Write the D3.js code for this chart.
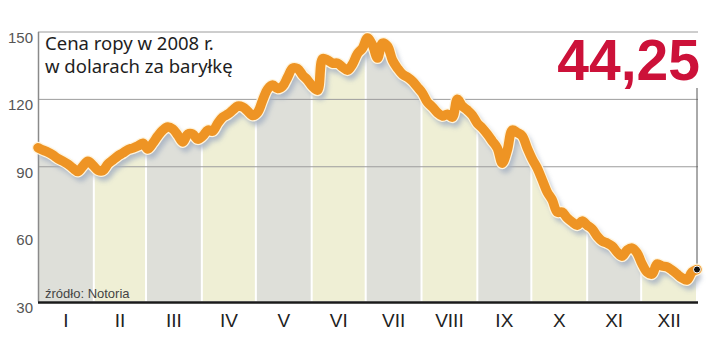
<!DOCTYPE html>
<html lang="pl">
<head>
    <meta charset="UTF-8">
    <title>Cena ropy 2008</title>
    <script src="https://d3js.org/d3.v7.min.js"></script>
    <style>
        body { margin: 0; background: #fff; }
        text { font-family: "Liberation Sans", Arial, sans-serif; }
    </style>
</head>
<body>
<svg id="main" width="720" height="348" viewBox="0 0 720 348"></svg>
<script>
    // dane
    const months = ['I', 'II', 'III', 'IV', 'V', 'VI', 'VII', 'VIII', 'IX', 'X', 'XI', 'XII'];
    const yTicks = [30, 60, 90, 120, 150];
    const gridValues = [90, 120, 150];
    const year = 2008;
    const lastLabel = '44,25';
    const titleLines = ['Cena ropy w 2008 r.', 'w dolarach za baryłkę'];
    const source = 'źródło: Notoria';
    const prices = [
        98.5, 97.4, 96.5, 95.2, 93.6, 92.5, 91.2, 89.4, 87.9, 90.3,
        92.5, 90.7, 88.5, 88.3, 91.2, 93.0, 94.8, 96.1, 97.6, 98.3,
        99.2, 100.5, 97.9, 100.5, 103.7, 106.3, 107.7, 106.8, 104.1, 101.0,
        104.5, 104.5, 102.3, 103.7, 106.3, 105.9, 109.4, 112.1, 113.4, 115.2,
        117.0, 116.6, 114.8, 112.8, 114.3, 119.7, 124.6, 126.4, 124.8, 125.9,
        129.9, 133.9, 133.7, 130.8, 128.6, 125.7, 124.1, 138.1, 137.5, 136.1,
        136.1, 134.4, 133.0, 135.7, 140.4, 142.8, 147.3, 144.2, 138.4, 145.0,
        143.7, 137.5, 133.9, 131.2, 129.9, 128.1, 125.5, 122.8, 118.8, 116.6,
        114.1, 112.6, 113.4, 112.1, 120.1, 117.0, 115.2, 113.0, 109.4, 107.2,
        104.5, 101.4, 98.3, 91.6, 97.4, 106.3, 105.2, 103.7, 98.3, 93.4,
        89.4, 84.1, 78.7, 75.2, 69.8, 69.8, 67.2, 65.4, 64.0, 65.8,
        64.0, 62.3, 59.1, 56.9, 56.0, 54.7, 52.0, 50.2, 52.9, 53.8,
        51.6, 46.7, 43.1, 42.2, 46.7, 45.8, 45.4, 44.0, 42.2, 40.5,
        39.6, 43.1, 44.25
    ];

    const svg = d3.select('svg#main');
    const m = {left: 38, right: 697, top: 32, bottom: 301.5};

    const xScale = d3.scaleLinear().domain([0, prices.length - 1]).range([m.left, m.right]);
    const tScale = d3.scaleTime()
        .domain([new Date(year, 0, 1), new Date(year + 1, 0, 1)])
        .range([m.left, m.right]);
    const yScale = d3.scaleLinear().domain([30, 150]).range([m.bottom, m.top]);

    const defs = svg.append('defs');
    const area = d3.area()
        .x((d, i) => xScale(i))
        .y0(m.bottom)
        .y1(d => yScale(d))
        .curve(d3.curveCatmullRom);
    defs.append('clipPath').attr('id', 'under')
        .append('path').attr('d', area(prices));

    const shadow = defs.append('filter').attr('id', 'shadow')
        .attr('x', '-5%').attr('y', '-10%').attr('width', '110%').attr('height', '130%');
    shadow.append('feGaussianBlur').attr('stdDeviation', 2.5);

    // pasy miesięcy
    const monthStarts = d3.range(12).map(k => new Date(year, k, 1));
    const bands = svg.append('g').attr('clip-path', 'url(#under)');
    bands.selectAll('rect')
        .data(monthStarts)
        .enter()
        .append('rect')
        .attr('x', d => tScale(d) + (d.getMonth() ? 1 : 0))
        .attr('y', m.top)
        .attr('width', d => tScale(d3.timeMonth.offset(d, 1)) - tScale(d) - (d.getMonth() ? 2 : 1))
        .attr('height', m.bottom - m.top)
        .style('fill', (d, i) => i % 2 ? '#efefd5' : '#dedfd9');

    // siatka
    svg.selectAll('line.grid')
        .data(gridValues)
        .enter()
        .append('line')
        .attr('class', 'grid')
        .attr('x1', m.left).attr('x2', m.right + 1)
        .attr('y1', d => yScale(d)).attr('y2', d => yScale(d))
        .style('stroke', '#9c9c9c')
        .style('stroke-width', 1);

    svg.append('line')
        .attr('x1', m.left + 0.5).attr('x2', m.left + 0.5)
        .attr('y1', m.top).attr('y2', m.bottom)
        .style('stroke', '#8a8a8a').style('stroke-width', 1.5);

    svg.selectAll('text.ytick')
        .data(yTicks)
        .enter()
        .append('text')
        .attr('class', 'ytick')
        .attr('x', 33)
        .attr('y', d => yScale(d) + 11)
        .attr('text-anchor', 'end')
        .style('font-size', '15px')
        .style('fill', '#555')
        .text(d => d);

    // linia pomocnicza do ostatniej wartości
    const last = prices.length - 1;
    svg.append('line')
        .attr('x1', xScale(last)).attr('x2', xScale(last))
        .attr('y1', 88).attr('y2', yScale(prices[last]))
        .style('stroke', '#555').style('stroke-width', 1);

    // linia cen
    const line = d3.line()
        .x((d, i) => xScale(i))
        .y(d => yScale(d))
        .curve(d3.curveCatmullRom);

    svg.append('path')
        .attr('d', line(prices))
        .attr('transform', 'translate(3,5)')
        .attr('filter', 'url(#shadow)')
        .style('fill', 'none')
        .style('stroke', '#a6b1c2')
        .style('stroke-width', 10)
        .style('stroke-linejoin', 'round')
        .style('opacity', 0.85);
    svg.append('path')
        .attr('d', line(prices))
        .style('fill', 'none')
        .style('stroke', '#fff4dc')
        .style('stroke-width', 12)
        .style('stroke-linejoin', 'round')
        .style('stroke-linecap', 'round');
    svg.append('path')
        .attr('d', line(prices))
        .style('fill', 'none')
        .style('stroke', '#ee9424')
        .style('stroke-width', 9.5)
        .style('stroke-linejoin', 'round')
        .style('stroke-linecap', 'round');

    svg.append('circle')
        .attr('cx', xScale(last))
        .attr('cy', yScale(prices[last]))
        .attr('r', 3.5)
        .style('fill', '#111')
        .style('stroke', '#fff')
        .style('stroke-width', 1);

    // oś X
    svg.append('line')
        .attr('x1', m.left).attr('x2', m.right + 1)
        .attr('y1', m.bottom + 1).attr('y2', m.bottom + 1)
        .style('stroke', '#1a1a1a').style('stroke-width', 2.5);

    svg.selectAll('text.month')
        .data(monthStarts)
        .enter()
        .append('text')
        .attr('class', 'month')
        .attr('x', d => (tScale(d) + tScale(d3.timeMonth.offset(d, 1))) / 2)
        .attr('y', 327)
        .attr('text-anchor', 'middle')
        .style('font-size', '19px')
        .style('fill', '#222')
        .text((d, i) => months[i]);

    // teksty
    svg.selectAll('text.title')
        .data(titleLines)
        .enter()
        .append('text')
        .attr('class', 'title')
        .attr('x', 45)
        .attr('y', (d, i) => 50 + i * 23)
        .style('font-family', '"Noto Sans", sans-serif')
        .style('font-size', '18.5px')
        .style('fill', '#1e1e1e')
        .text(d => d);

    svg.append('text')
        .attr('x', 700)
        .attr('y', 80)
        .attr('text-anchor', 'end')
        .style('font-size', '57px')
        .style('font-weight', 'bold')
        .style('fill', '#cc1139')
        .text(lastLabel);

    svg.append('text')
        .attr('x', 45)
        .attr('y', 298)
        .style('font-size', '13px')
        .style('fill', '#444')
        .text(source);
</script>
</body>
</html>
